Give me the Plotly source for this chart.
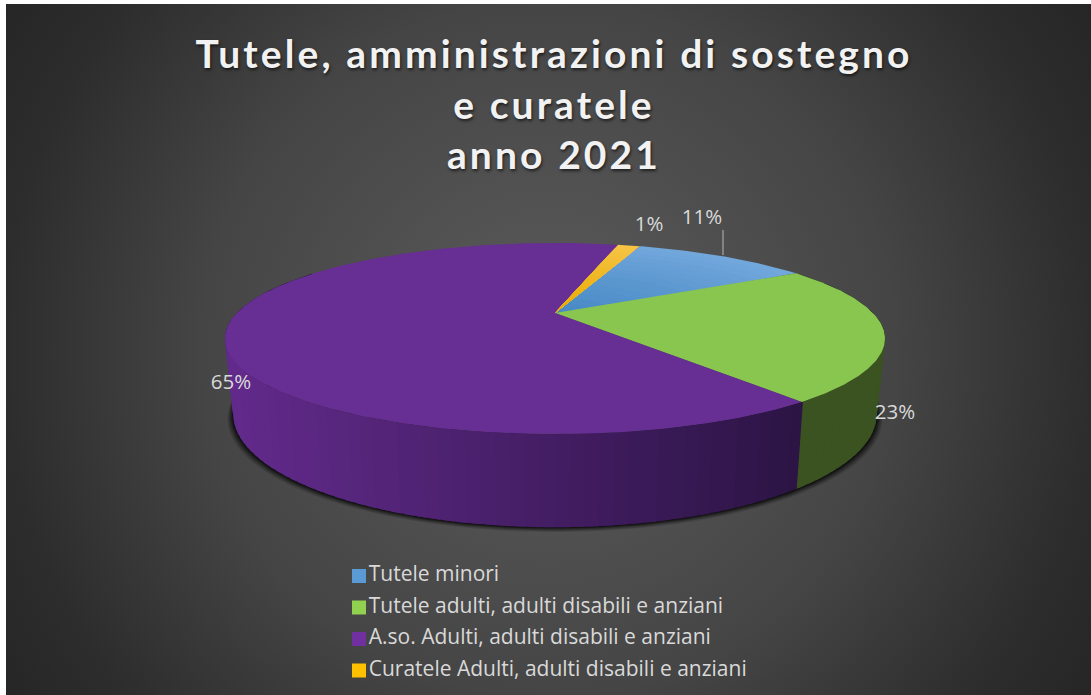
import base64
import numpy as np
import plotly.graph_objects as go

# ---------- data ----------
categories = ["Tutele minori", "Tutele adulti, adulti disabili e anziani",
              "A.so. Adulti, adulti disabili e anziani", "Curatele Adulti, adulti disabili e anziani"]
values = [11.1, 23.0, 64.5, 1.4]
pct_labels = ["11%", "23%", "65%", "1%"]
title_text = "Tutele, amministrazioni di sostegno<br>e curatele<br>anno 2021"

# ---------- style / layout ----------
top_colors = ["#5b9bd5", "#88c64f", "#672e93", "#f7b912"]
legend_colors = ["#5b9bd5", "#92d050", "#7030a0", "#ffc000"]
W, H = 1091, 695
CX, A, K = 555, 318.0, 0.267
TOP_Y, TOP_B = 313.0, 88.7
BOT_Y, BOT_B, BOT_S = 384.0, 105.0, 0.975
START = 19.5


def project(phi_deg, r=1.0, plane="top"):
    th = np.radians(90 - np.asarray(phi_deg, dtype=float))
    u, v = r * np.cos(th), r * np.sin(th)
    if plane == "top":
        return CX + A * u / (1 + K * v), TOP_Y - TOP_B * v / (1 + K * v)
    return CX + BOT_S * A * u / (1 + K * v), BOT_Y - BOT_B * v / (1 + K * v)


def mix(a, b, t):
    return "rgb(%d,%d,%d)" % tuple(round(a[i] + (b[i] - a[i]) * t) for i in range(3))


total = sum(values)
spans = [v / total * 360 for v in values]
edges = START + np.concatenate([[0], np.cumsum(spans)])

fig = go.Figure()


def poly(x, y, color):
    fig.add_trace(go.Scatter(x=list(x), y=list(y), mode="lines", fill="toself", fillcolor=color,
                             line=dict(width=0), hoverinfo="skip", showlegend=False))


# soft shadow under the disc
arc = np.linspace(60, 300, 200)
for d, alpha in [(6, .10), (5, .12), (4, .16), (3, .2), (2, .28), (1, .35)]:
    bx, by = project(arc, plane="bot")
    tx, ty = project(arc[::-1], plane="top")
    poly(np.concatenate([CX + (bx - CX) * (1 + d / 330), tx]), np.concatenate([by + d * .8, ty]),
         f"rgba(0,0,0,{alpha})")

# side wall, front half only: painted back to front so each strip overlaps the previous one
side_steps = np.arange(90, 285.01, 2.0)
for a0, a1 in zip(side_steps[:-1], side_steps[1:]):
    mid = (a0 + a1) / 2
    if mid < edges[2]:
        col = "#3b5321"
        a_start, a_end = a0, min(a1 + 1.5, edges[2])
    else:
        t = (float(project(mid)[0]) - 225) / (802 - 225)
        col = mix((98, 42, 140), (44, 20, 68), t)
        a_start, a_end = a0, a1 + 1.5
    xt0, yt0 = project(a_start); xt1, yt1 = project(a_end)
    xb0, yb0 = project(a_start, plane="bot"); xb1, yb1 = project(a_end, plane="bot")
    poly([xt0, xt1, xb1, xb0], [yt0, yt1, yb1, yb0], col)

# top face
for i, col in enumerate(top_colors):
    a0, a1 = edges[i], edges[i + 1]
    arcs = np.linspace(a0, a1, max(8, int(spans[i] * 2)))
    if i in (0, 3):
        base = {0: ((113, 167, 219), (70, 136, 196)), 3: ((247, 196, 70), (232, 170, 0))}[i]
        for r in np.linspace(1, .06, 16):
            x, y = project(arcs, r=r)
            poly(np.r_[CX, x], np.r_[TOP_Y, y], mix(base[0], base[1], 1 - r))
    else:
        x, y = project(arcs)
        poly(np.r_[CX, x], np.r_[TOP_Y, y], col)

# percent labels
label_x = [702, 895, 231, 649]
label_y = [219, 414, 384, 226]
fig.add_trace(go.Scatter(x=label_x, y=label_y, mode="text", text=pct_labels, hoverinfo="skip", showlegend=False,
                         textfont=dict(family="Open Sans", size=20.5, color="#d9d9d9")))
# leader line of the 11% label
fig.add_trace(go.Scatter(x=[723, 723], y=[230, 255], mode="lines", line=dict(color="#b8b8b8", width=1),
                         hoverinfo="skip", showlegend=False))

# legend
legend_x = [359] * 4
legend_y = [576, 607.5, 639, 670.5]
for i in range(4):
    fig.add_trace(go.Scatter(x=[legend_x[i]], y=[legend_y[i]], mode="markers+text", text=[categories[i]],
                             textposition="middle right", hoverinfo="skip", showlegend=False,
                             marker=dict(symbol="square", size=14, color=legend_colors[i]),
                             textfont=dict(family="Open Sans", size=21, color="#d9d9d9")))

svg = f'''<svg xmlns="http://www.w3.org/2000/svg" width="{W}" height="{H}"><defs>
<radialGradient id="g" gradientUnits="userSpaceOnUse" cx="548" cy="350" r="640">
<stop offset="0" stop-color="#5c5c5c"/><stop offset="0.54" stop-color="#454545"/>
<stop offset="0.85" stop-color="#2d2d2d"/><stop offset="1" stop-color="#262626"/></radialGradient></defs>
<rect x="6" y="4" width="{W-6}" height="{H-4}" fill="url(#g)"/></svg>'''
src = "data:image/svg+xml;base64," + base64.b64encode(svg.encode()).decode()

fig.update_layout(
    width=W, height=H, margin=dict(l=0, r=0, t=0, b=0),
    paper_bgcolor="white", plot_bgcolor="rgba(0,0,0,0)", showlegend=False,
    xaxis=dict(range=[0, W], visible=False, fixedrange=True),
    yaxis=dict(range=[H, 0], visible=False, fixedrange=True),
    images=[dict(source=src, xref="paper", yref="paper", x=0, y=1, sizex=1, sizey=1,
                 sizing="stretch", xanchor="left", yanchor="top", layer="below")],
    title=dict(text=title_text, x=554 / W, xanchor="center", y=1 - 68 / H, yanchor="top",
               font=dict(family="Lato", size=39, color="#f2f2f2", weight="bold",
                         shadow="1px 2px 3px rgba(0,0,0,0.6)")),
)

post = """
document.body.style.margin='0';
document.querySelectorAll('.gtitle').forEach(function(t){t.style.letterSpacing='3.1px';});
"""
fig.write_html("out.html", post_script=post, config=dict(displayModeBar=False))
